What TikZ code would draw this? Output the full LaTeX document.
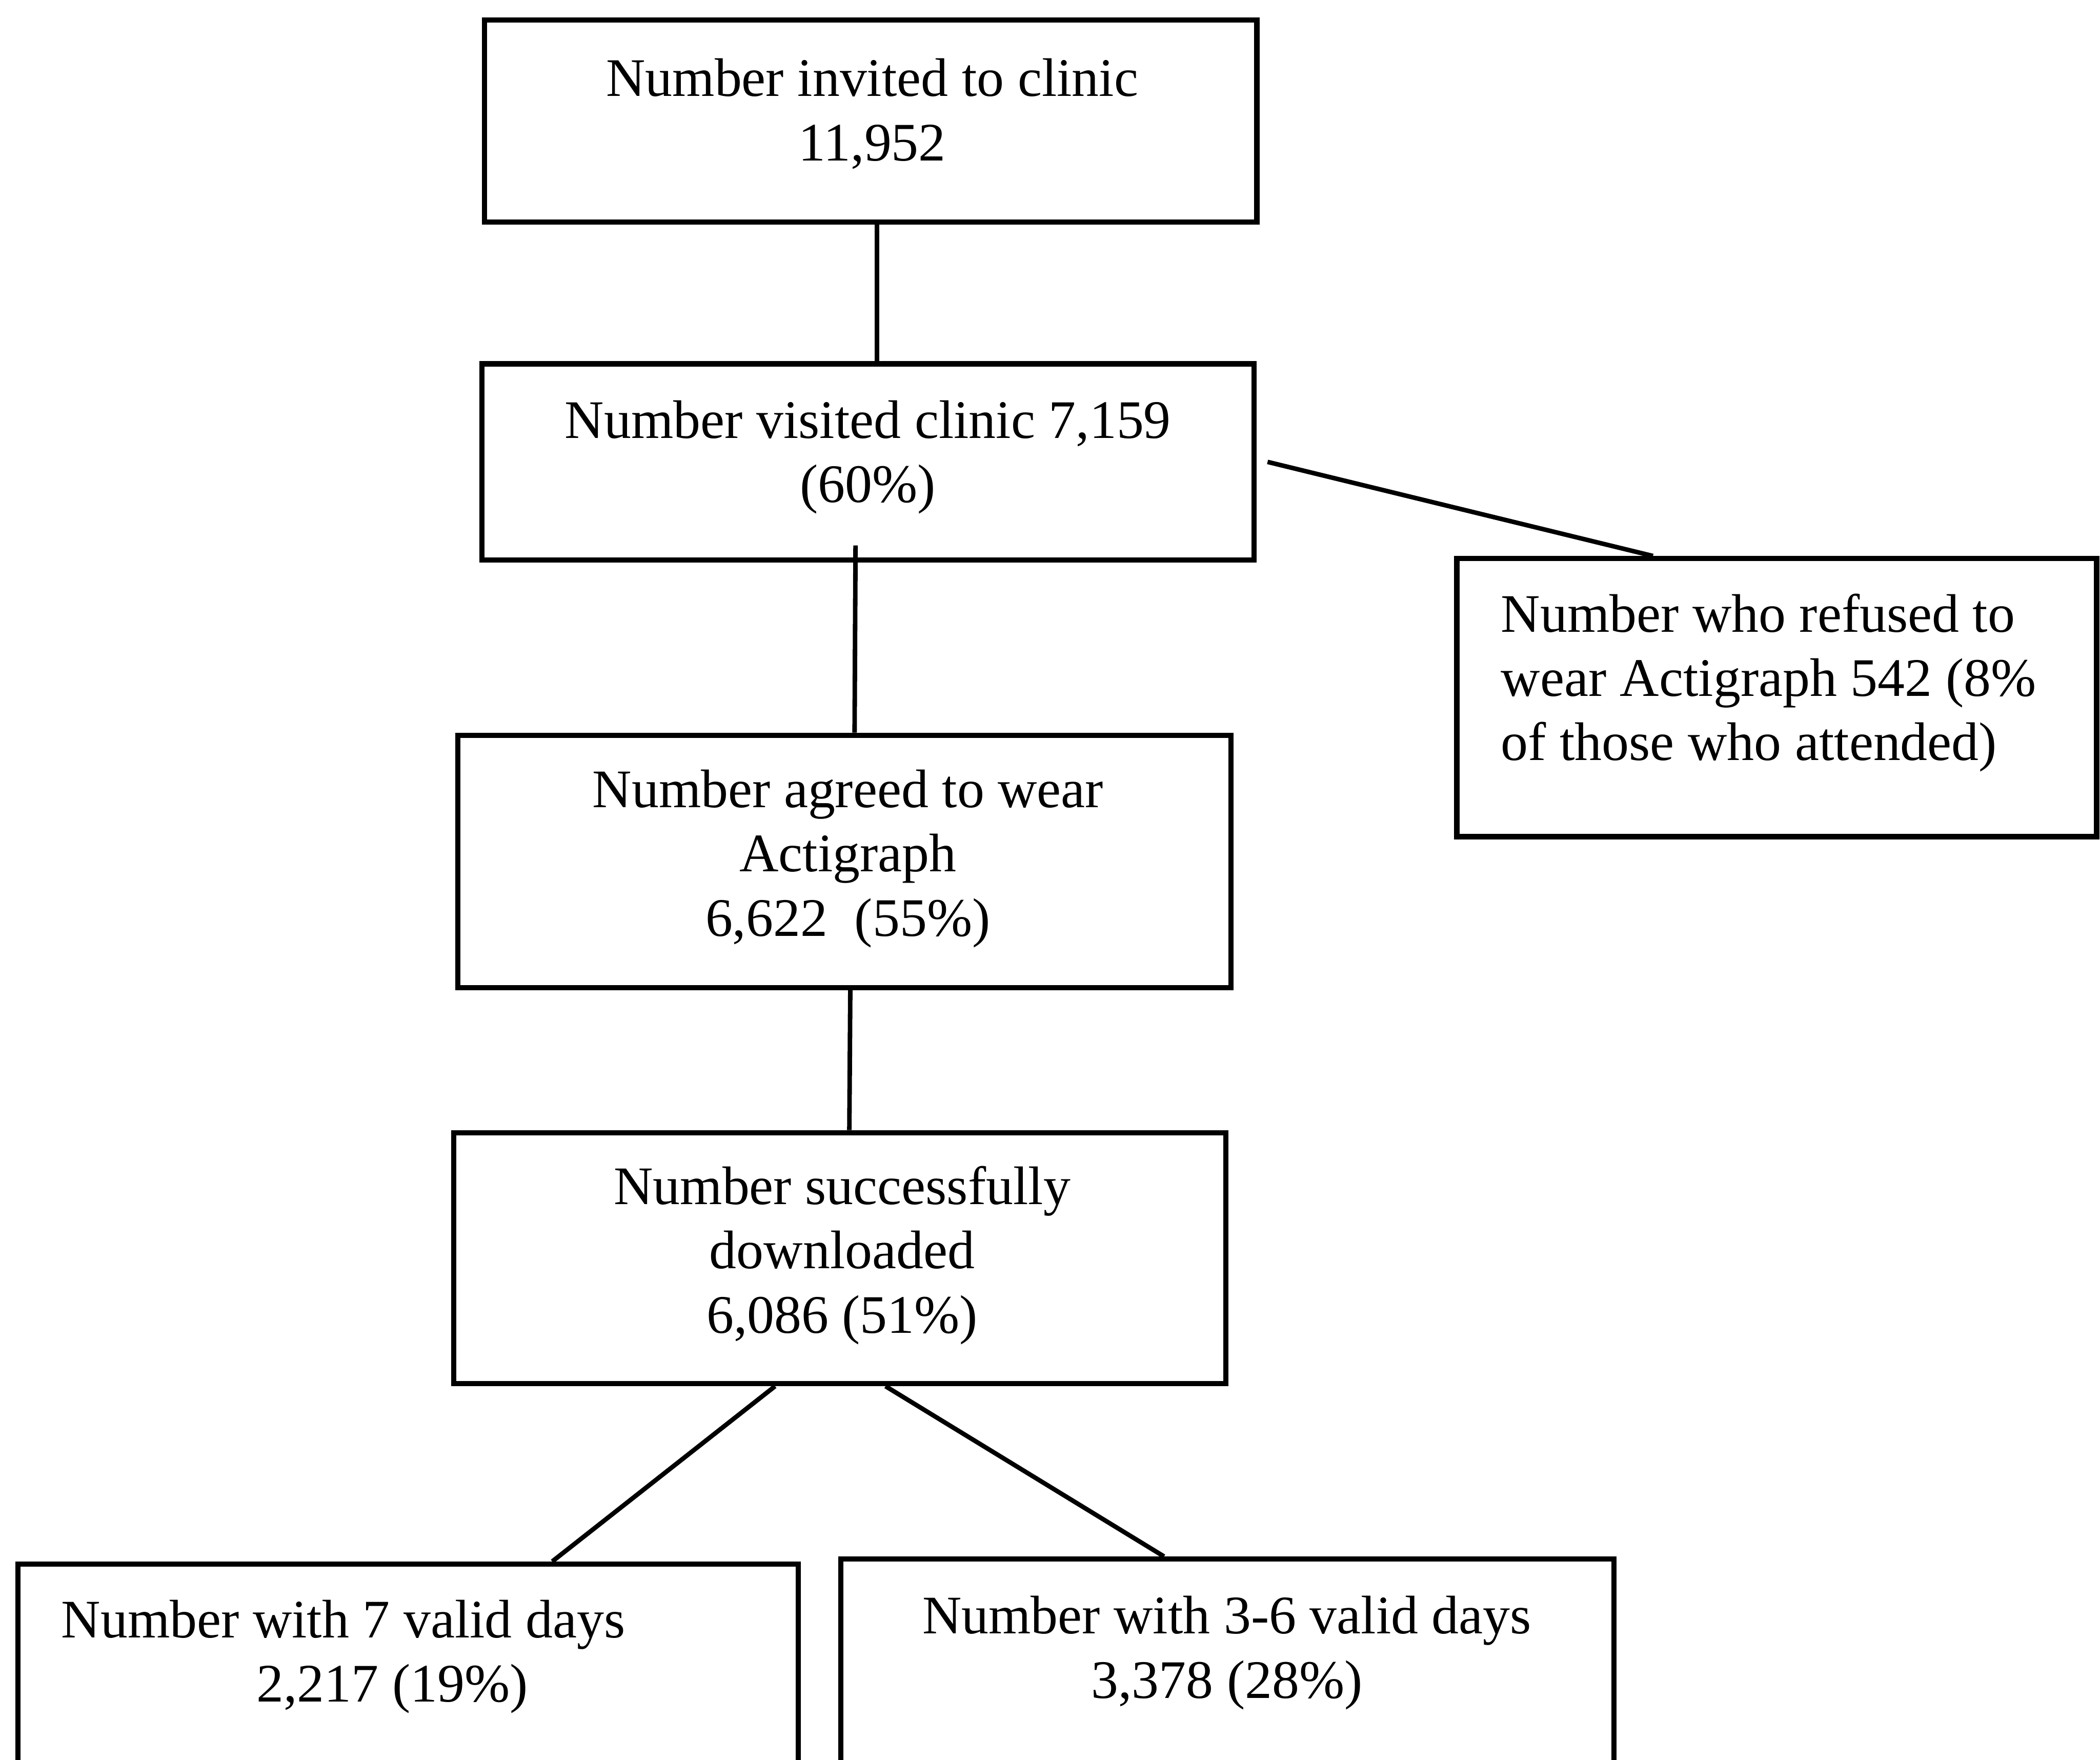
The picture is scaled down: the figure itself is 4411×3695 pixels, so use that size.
\documentclass[tikz,border=0pt]{standalone}
\usepackage{fontspec}
\setmainfont{Liberation Serif}
\begin{document}
\begin{tikzpicture}[x=0.1pt,y=-0.1pt,
  box/.style={draw=black,line width=1.1pt,rectangle,inner sep=0pt},
  txt/.style={font=\fontsize{11.4pt}{13.5pt}\selectfont,align=center,inner sep=0pt},
  conn/.style={draw=black,line width=0.95pt}]
\useasboundingbox (0,0) rectangle (4411,3695);
% boxes
\node[box,minimum width=162.2pt,minimum height=42.4pt] (b1) at (1829,254) {};
\node[box,minimum width=162.2pt,minimum height=41.2pt] (b2) at (1823,970) {};
\node[box,minimum width=134.4pt,minimum height=58.4pt] (b3) at (3732,1465) {};
\node[box,minimum width=162.4pt,minimum height=53.0pt] (b4) at (1774,1809) {};
\node[box,minimum width=162.2pt,minimum height=52.7pt] (b5) at (1764,2642) {};
\node[box,minimum width=163.9pt,minimum height=51.5pt] (b6) at (857,3542) {};
\node[box,minimum width=162.4pt,minimum height=52.6pt] (b7) at (2578,3537) {};
% texts
\node[txt] (t1) at (1832,239) {Number invited to clinic\\11,952};
\node[txt] (t2) at (1823,960) {Number visited clinic 7,159\\(60\%)};
\node[txt,align=left,anchor=west] (t3) at (3151,1434) {Number who refused to\\wear Actigraph 542 (8\%\\of those who attended)};
\node[txt] (t4) at (1781,1803) {Number agreed to wear\\Actigraph\\6,622~~(55\%)};
\node[txt] (t5) at (1769,2636) {Number successfully\\downloaded\\6,086 (51\%)};
\node[txt,align=left,anchor=west] (t6) at (127,3479) {Number with 7 valid days\\\hspace*{41pt}2,217 (19\%)};
\node[txt] (t7) at (2577,3471) {Number with 3-6 valid days\\3,378 (28\%)};
% connectors
\draw[conn] ([xshift=1.3pt]b1.south) -- ([xshift=1.9pt]b2.north);
\draw[conn] ([xshift=2.3pt]b2.east) -- ([xshift=-26pt]b3.north);
\draw[conn] ([xshift=-2.6pt,yshift=3.6pt]b2.south) -- ([xshift=2.1pt]b4.north);
\draw[conn] ([xshift=1.2pt]b4.south) -- ([xshift=2pt]b5.north);
\draw[conn] ([xshift=-13.6pt]b5.south) -- ([xshift=30.3pt]b6.north);
\draw[conn] ([xshift=9.6pt]b5.south) -- ([xshift=-13.3pt]b7.north);
\end{tikzpicture}
\end{document}
